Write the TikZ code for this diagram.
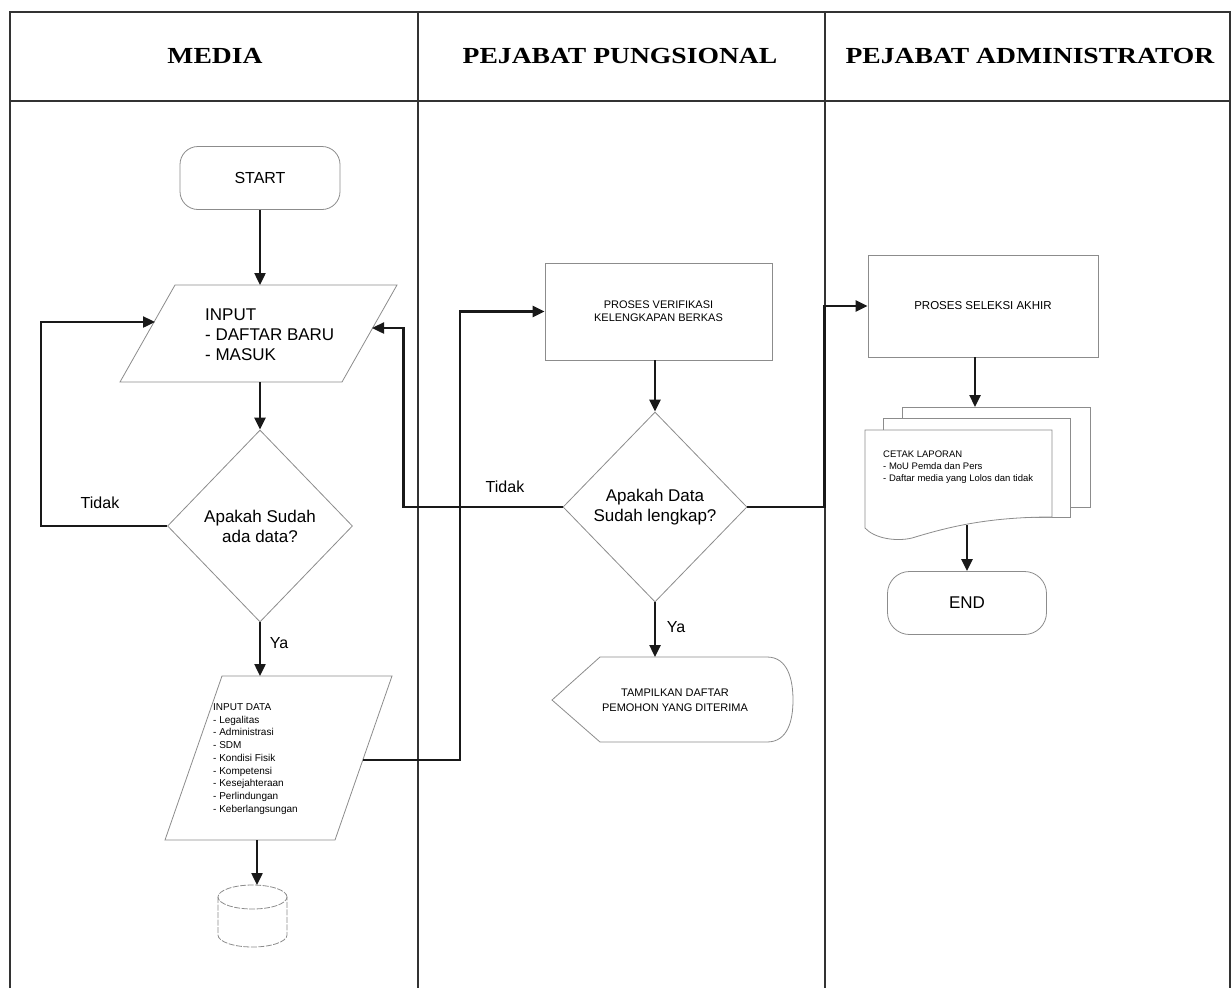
\documentclass[tikz,border=0pt]{standalone}
\usepackage{fontspec}
\setmainfont{Liberation Sans}
\newfontfamily\headfont{Liberation Serif}
\usetikzlibrary{shapes.geometric,arrows.meta,calc}
\begin{document}
\begin{tikzpicture}[x=1pt,y=-1pt,
  grid/.style={draw=black!80, line width=1.6pt},
  shp/.style={draw=black!45, line width=0.8pt, fill=white},
  dbline/.style={draw=black!45, line width=0.8pt, dash pattern=on 6pt off 1.5pt},
  conn/.style={draw=black!90, line width=2.4pt, -{Triangle[length=12pt,width=11pt]}},
  lbl/.style={font=\fontsize{16}{19}\selectfont},
  head/.style={font=\headfont\bfseries\fontsize{23}{26}\selectfont},
  big/.style={font=\fontsize{17}{20}\selectfont, align=center},
  small/.style={font=\fontsize{11}{13}\selectfont, align=center},
]
\useasboundingbox (0,0) rectangle (1231,988);

% table
\draw[grid] (10,988) -- (10,12) -- (1230,12) -- (1230,988);
\draw[grid] (10,101) -- (1230,101);
\draw[grid] (418,12) -- (418,988);
\draw[grid] (825,12) -- (825,988);
\node[head] (h1) at (215,56) {\scalebox{1.2}[1]{MEDIA}};
\node[head] (h2) at (620,56) {\scalebox{1.2}[1]{PEJABAT PUNGSIONAL}};
\node[head] (h3) at (1030,56) {\scalebox{1.2}[1]{PEJABAT ADMINISTRATOR}};

% START
\node[shp, rounded corners=18pt, minimum width=160pt, minimum height=63pt, font=\fontsize{16}{19}\selectfont] (start) at (260,178) {START};

% INPUT parallelogram
\draw[shp] (175,285) -- (397,285) -- (342,382) -- (120,382) -- cycle;
\node[font=\fontsize{17}{20}\selectfont, align=left, anchor=west, inner sep=0] (inp) at (205,335) {INPUT\\- DAFTAR BARU\\- MASUK};
\coordinate (inTop) at (260,285);
\coordinate (inBot) at (260,382);
\coordinate (inLeft) at (155,322);
\coordinate (inRight) at (372,328);

% decision 1
\node[shp, diamond, minimum width=185pt, minimum height=192pt, inner sep=0, big] (d1) at (260,526) {Apakah Sudah\\ada data?};

% INPUT DATA parallelogram
\draw[shp] (222,676) -- (392,676) -- (335,840) -- (165,840) -- cycle;
\node[font=\fontsize{10}{12.75}\selectfont, align=left, anchor=west, inner sep=0] (idat) at (213,759) {INPUT DATA\\- Legalitas\\- Administrasi\\- SDM\\- Kondisi Fisik\\- Kompetensi\\- Kesejahteraan\\- Perlindungan\\- Keberlangsungan};
\coordinate (idTop) at (260,676);
\coordinate (idBot) at (257,840);
\coordinate (idRight) at (363,760);

% database cylinder
\draw[dbline] (218,897) -- (218,935) arc[start angle=180, end angle=360, x radius=34.5pt, y radius=12pt] -- (287,897);
\draw[dbline] (252.5,897) ellipse[x radius=34.5pt, y radius=12pt];
\coordinate (dbTop) at (257,885);

% verification box
\node[shp, minimum width=227pt, minimum height=97pt, small] (ver) at (658.5,311.5) {PROSES VERIFIKASI\\KELENGKAPAN BERKAS};

% decision 2
\node[shp, diamond, minimum width=184pt, minimum height=190pt, inner sep=0, big] (d2) at (655,507) {Apakah Data\\Sudah lengkap?};

% display shape
\draw[shp] (552,700) -- (600,657) -- (767,657) .. controls (788,657) and (793,680) .. (793,700)
  .. controls (793,720) and (788,742) .. (767,742) -- (600,742) -- cycle;
\node[small, font=\fontsize{11}{15}\selectfont] (tamp) at (675,700) {TAMPILKAN DAFTAR\\PEMOHON YANG DITERIMA};
\coordinate (tpTop) at (655,657);

% final selection box
\node[shp, minimum width=230pt, minimum height=102pt, small, font=\fontsize{11.5}{13}\selectfont] (sel) at (983,306) {PROSES SELEKSI AKHIR};

% multi document
\draw[shp] (902,407) rectangle (1090,507);
\draw[shp] (883,418) rectangle (1070,517);
\draw[shp] (865,430) -- (1052,430) -- (1052,517) .. controls (985,517) and (945,528) .. (912,538)
  .. controls (895,542) and (874,538) .. (865,528) -- cycle;
\node[font=\fontsize{9.5}{12}\selectfont, align=left, anchor=west, inner sep=0] (cetak) at (883,467) {CETAK LAPORAN\\- MoU Pemda dan Pers\\- Daftar media yang Lolos dan tidak};
\coordinate (docTop) at (975,407);
\coordinate (docBot) at (967,525);

% END
\node[shp, rounded corners=22pt, minimum width=159pt, minimum height=63pt, font=\fontsize{17}{20}\selectfont] (end) at (967,603) {END};

% connectors
\draw[conn] (start.south) -- (inTop);
\draw[conn] (inBot) -- (d1.north);
\draw[conn] (d1.west) -- ++(-126,0) |- (inLeft);
\draw[conn] (d1.south) -- (idTop);
\draw[conn] (idBot) -- (dbTop);
\draw[conn] (idRight) -- ++(97,0) |- (ver.west);
\draw[conn] (ver.south -| d2.north) -- (d2.north);
\draw[conn] (d2.west) -- ++(-159,0) |- (inRight);
\draw[conn] (d2.south) -- (tpTop);
\draw[conn] (d2.east) -- ++(77,0) |- (sel.west);
\draw[conn] (sel.south -| docTop) -- (docTop);
\draw[conn] (docBot) -- (end.north);

% labels
\node[lbl] (t1) at (100,503) {Tidak};
\node[lbl] (y1) at (279,643) {Ya};
\node[lbl] (t2) at (505,487) {Tidak};
\node[lbl] (y2) at (676,627) {Ya};
\end{tikzpicture}
\end{document}
